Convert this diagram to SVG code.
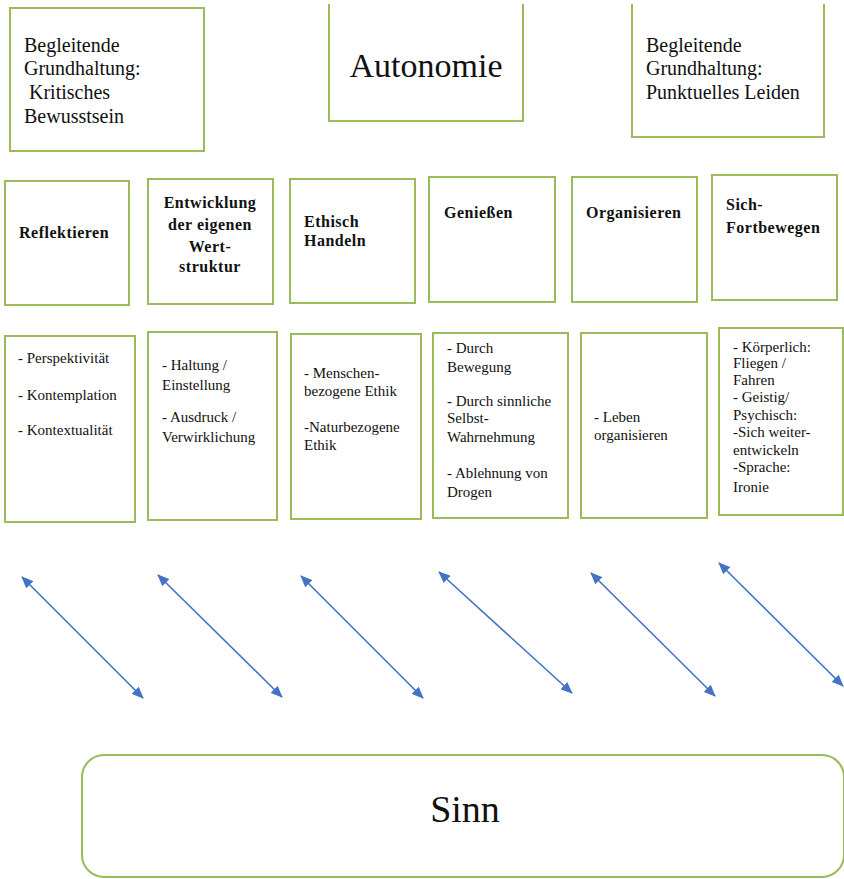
<svg xmlns="http://www.w3.org/2000/svg" width="844" height="879" viewBox="0 0 844 879">
<style>
.box{fill:#fff;stroke:#9BBB59;stroke-width:2}
.t{font-family:"Liberation Serif","Times New Roman",serif;fill:#111}
.top{font-size:20px}
.h{font-size:16px;font-weight:bold;letter-spacing:0.5px}
.c{font-size:15px}
.arr{stroke:#4472C4;stroke-width:1.6;fill:none;marker-start:url(#ah);marker-end:url(#ah)}
</style>
<defs>
<marker id="ah" viewBox="0 0 12 10" refX="11" refY="5" markerWidth="12" markerHeight="10" markerUnits="userSpaceOnUse" orient="auto-start-reverse">
<path d="M0,0 L12,5 L0,10 z" fill="#4472C4"/>
</marker>
</defs>
<rect width="844" height="879" fill="#fff"/>

<g id="kritisch">
<rect class="box" x="10" y="8" width="194" height="143"/>
<text class="t top" x="24" y="52">Begleitende</text>
<text class="t top" x="24" y="75">Grundhaltung:</text>
<text class="t top" x="24" y="99" xml:space="preserve"> Kritisches</text>
<text class="t top" x="24" y="123">Bewusstsein</text>
</g>
<g id="autonomie">
<path class="box" d="M329,4 V121 H523 V4"/>
<text class="t" x="426" y="77" font-size="34" text-anchor="middle">Autonomie</text>
</g>
<g id="leiden">
<path class="box" d="M632,4 V137 H824 V4"/>
<text class="t top" x="646" y="52">Begleitende</text>
<text class="t top" x="646" y="75">Grundhaltung:</text>
<text class="t top" x="646" y="99">Punktuelles Leiden</text>
</g>

<g id="h1">
<rect class="box" x="5" y="181" width="124" height="124"/>
<text class="t h" x="19" y="238">Reflektieren</text>
</g>
<g id="h2">
<rect class="box" x="148" y="179" width="125" height="125"/>
<text class="t h" x="210" y="208" text-anchor="middle">Entwicklung</text>
<text class="t h" x="210" y="230" text-anchor="middle">der eigenen</text>
<text class="t h" x="210" y="252" text-anchor="middle">Wert-</text>
<text class="t h" x="210" y="272" text-anchor="middle">struktur</text>
</g>
<g id="h3">
<rect class="box" x="290" y="179" width="125" height="124"/>
<text class="t h" x="304" y="227">Ethisch</text>
<text class="t h" x="304" y="246">Handeln</text>
</g>
<g id="h4">
<rect class="box" x="429" y="177" width="126" height="125"/>
<text class="t h" x="444" y="218">Genießen</text>
</g>
<g id="h5">
<rect class="box" x="572" y="177" width="125" height="125"/>
<text class="t h" x="586" y="218">Organisieren</text>
</g>
<g id="h6">
<rect class="box" x="712" y="175" width="125" height="125"/>
<text class="t h" x="726" y="210">Sich-</text>
<text class="t h" x="726" y="233">Fortbewegen</text>
</g>

<g id="c1">
<rect class="box" x="5" y="336" width="130" height="186"/>
<text class="t c" x="18" y="363">- Perspektivität</text>
<text class="t c" x="18" y="400">- Kontemplation</text>
<text class="t c" x="18" y="435">- Kontextualität</text>
</g>
<g id="c2">
<rect class="box" x="148" y="332" width="129" height="188"/>
<text class="t c" x="162" y="370" fill="#333">- Haltung /</text>
<text class="t c" x="162" y="390" fill="#333">Einstellung</text>
<text class="t c" x="162" y="422" fill="#333">- Ausdruck /</text>
<text class="t c" x="162" y="442" fill="#333">Verwirklichung</text>
</g>
<g id="c3">
<rect class="box" x="291" y="334" width="130" height="185"/>
<text class="t c" x="304" y="378">- Menschen-</text>
<text class="t c" x="304" y="396">bezogene Ethik</text>
<text class="t c" x="304" y="432">-Naturbezogene</text>
<text class="t c" x="304" y="450">Ethik</text>
</g>
<g id="c4">
<rect class="box" x="433" y="333" width="135" height="185"/>
<text class="t c" x="447" y="353">- Durch</text>
<text class="t c" x="447" y="372">Bewegung</text>
<text class="t c" x="447" y="406">- Durch sinnliche</text>
<text class="t c" x="447" y="423">Selbst-</text>
<text class="t c" x="447" y="442">Wahrnehmung</text>
<text class="t c" x="447" y="478">- Ablehnung von</text>
<text class="t c" x="447" y="497">Drogen</text>
</g>
<g id="c5">
<rect class="box" x="581" y="333" width="126" height="185"/>
<text class="t c" x="594" y="422">- Leben</text>
<text class="t c" x="594" y="440">organisieren</text>
</g>
<g id="c6">
<rect class="box" x="719" y="328" width="124" height="187"/>
<text class="t c" x="733" y="352">- Körperlich:</text>
<text class="t c" x="733" y="368">Fliegen /</text>
<text class="t c" x="733" y="385">Fahren</text>
<text class="t c" x="733" y="402">- Geistig/</text>
<text class="t c" x="733" y="420">Psychisch:</text>
<text class="t c" x="733" y="437">-Sich weiter-</text>
<text class="t c" x="733" y="455">entwickeln</text>
<text class="t c" x="733" y="472">-Sprache:</text>
<text class="t c" x="733" y="492">Ironie</text>
</g>

<g id="connectors">
<line class="arr" x1="22" y1="577" x2="143" y2="698"/>
<line class="arr" x1="158" y1="575" x2="282" y2="697"/>
<line class="arr" x1="301" y1="576" x2="423" y2="698"/>
<line class="arr" x1="439" y1="572" x2="572" y2="693"/>
<line class="arr" x1="591" y1="573" x2="715" y2="696"/>
<line class="arr" x1="719" y1="563" x2="843" y2="686"/>
</g>

<g id="sinn">
<rect class="box" x="82" y="755" width="762" height="122" rx="22"/>
<text class="t" x="465" y="822" font-size="38" text-anchor="middle">Sinn</text>
</g>
</svg>
